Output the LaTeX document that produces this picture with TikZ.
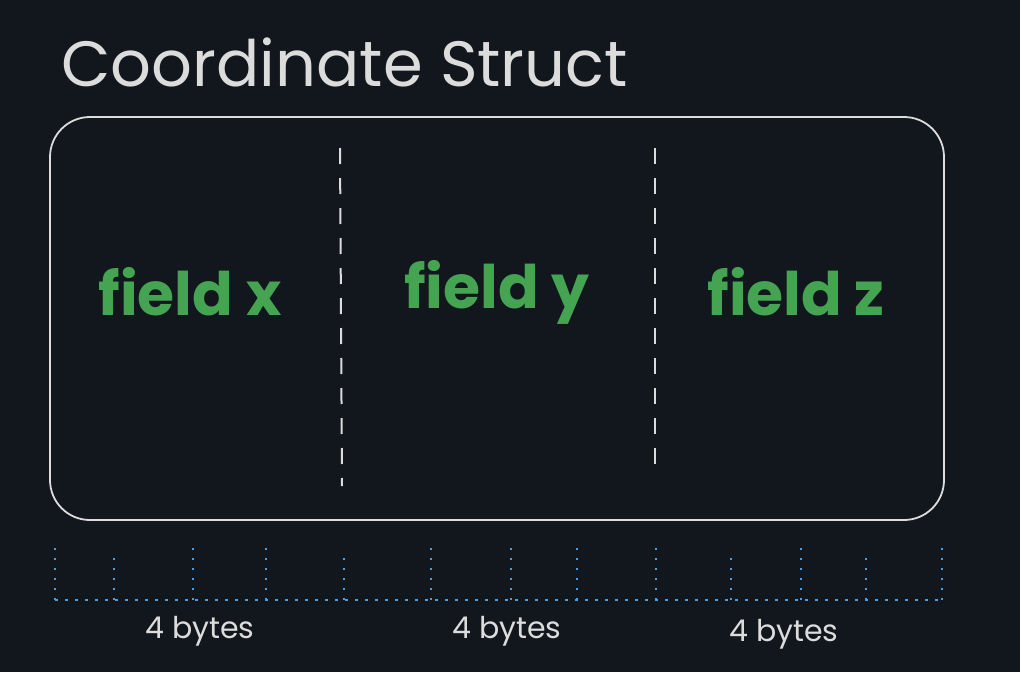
\documentclass[tikz,border=0pt]{standalone}
\usepackage{fontspec}
\setmainfont{Poppins}
\usepackage{xcolor}
\definecolor{bgdark}{HTML}{12161D}
\definecolor{chalk}{HTML}{DCDCDC}
\definecolor{fieldgreen}{HTML}{45A452}
\definecolor{bytesblue}{HTML}{4A9EE6}

\begin{document}
\begin{tikzpicture}%
  [x=1pt,y=-1pt,
   field node/.style={text=fieldgreen,font=\fontsize{60}{66}\selectfont\bfseries,anchor=center},
   bytes node/.style={text=chalk,font=\fontsize{30}{34}\selectfont,anchor=center},
   divider/.style={draw=chalk,line width=2pt,dash pattern=on 16pt off 14pt},
   tick/.style={draw=bytesblue,line width=2pt,dash pattern=on 2.5pt off 7.5pt}]
  \fill[bgdark] (0,0) rectangle (1020,672);
  \useasboundingbox (0,0) rectangle (1020,672);
  \node(title)[text=chalk,font=\fontsize{64}{70}\selectfont,anchor=base west]
    at (58,86) {Coordinate Struct};
  \node(box)[draw=chalk,line width=1.8pt,rounded corners=40pt,
    minimum width=894pt,minimum height=403pt] at (497,318.5) {};
  \node(fx)[field node] at (190,292) {field x};
  \node(fy)[field node] at (497,292) {field y};
  \node(fz)[field node] at (796,292) {field z};
  % dividers
  \coordinate(d1t) at (340,148); \coordinate(d1b) at (342,486);
  \coordinate(d2t) at (655,148); \coordinate(d2b) at (655,468);
  \draw[divider] (d1t) -- (d1b);
  \draw[divider] (d2t) -- (d2b);
  % byte ruler
  \coordinate(rl) at (55,600); \coordinate(rr) at (942,600);
  \draw[tick] (rl) -- (rr);
  \foreach \x/\top in {55/542,114/550,193/548,266/546,344/552,431/548,
      511/540,577/548,656/548,731/552,801/548,866/550,942/546}
    \draw[tick] (\x,600) -- (\x,\top);
  \node(b1)[bytes node] at (200,631) {4 bytes};
  \node(b2)[bytes node] at (507,631) {4 bytes};
  \node(b3)[bytes node] at (784,634) {4 bytes};
\end{tikzpicture}
\end{document}
